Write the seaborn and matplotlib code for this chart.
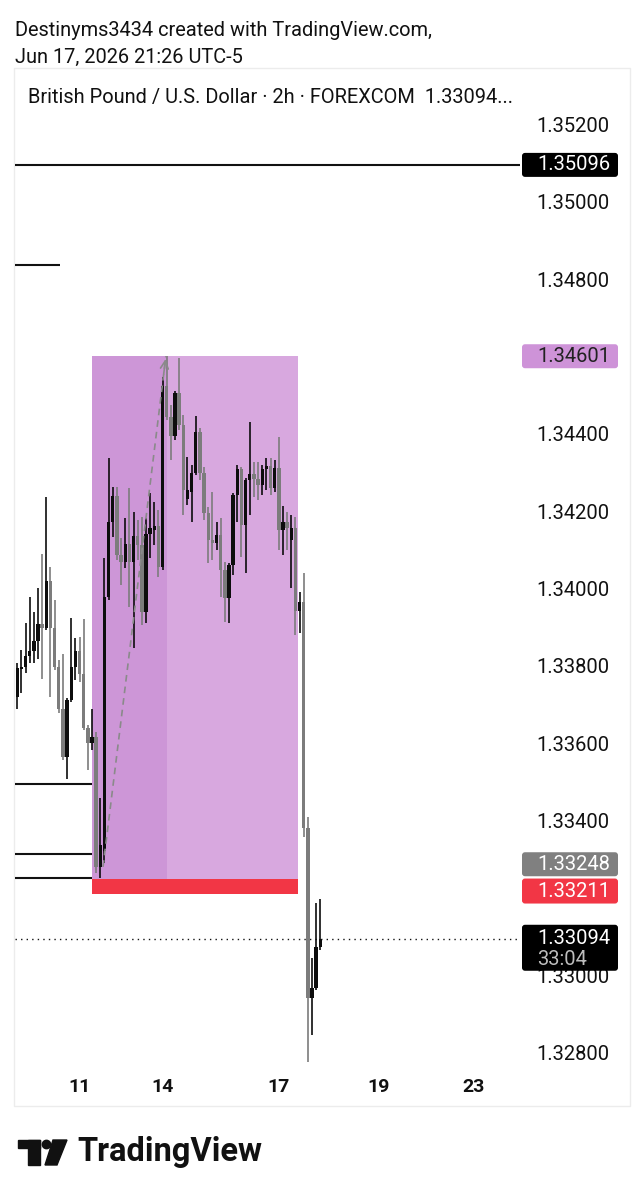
import matplotlib
matplotlib.use("Agg")
import matplotlib.pyplot as plt
import matplotlib.transforms as mtransforms
from matplotlib.patches import Rectangle, Polygon, Circle, FancyBboxPatch
import numpy as np
import seaborn as sns

# GBPUSD 2h candles, oldest -> newest
opens = [1.33719, 1.33792, 1.33797, 1.33826, 1.33838, 1.33864, 1.33908, 1.33898,
         1.34020, 1.33898, 1.33797, 1.33688, 1.33564, 1.33712, 1.33797, 1.33838,
         1.33779, 1.33639, 1.33600, 1.33616, 1.33280, 1.33320, 1.33978, 1.34172,
         1.34239, 1.34087, 1.34069, 1.34115, 1.34069, 1.34136, 1.34113, 1.33939,
         1.34141, 1.34151, 1.34162, 1.34056, 1.34524, 1.34444, 1.34395, 1.34506,
         1.34423, 1.34232, 1.34250, 1.34299, 1.34405, 1.34299, 1.34195, 1.34126,
         1.34118, 1.34139, 1.34048, 1.33976, 1.34061, 1.34242, 1.34309, 1.34164,
         1.34281, 1.34296, 1.34283, 1.34268, 1.34309, 1.34317, 1.34260, 1.34312,
         1.34151, 1.34172, 1.34126, 1.34157, 1.33942, 1.33965, 1.33381, 1.32941,
         1.32967, 1.33073]
highs = [1.33807, 1.33841, 1.33911, 1.33978, 1.33939, 1.34001, 1.34089, 1.34237,
         1.34056, 1.33970, 1.33815, 1.33831, 1.33717, 1.33924, 1.33872, 1.33875,
         1.33921, 1.33647, 1.33688, 1.33629, 1.33458, 1.34079, 1.34338, 1.34263,
         1.34263, 1.34131, 1.34183, 1.34260, 1.34198, 1.34177, 1.34185, 1.34183,
         1.34247, 1.34224, 1.34203, 1.34547, 1.34601, 1.34475, 1.34511, 1.34596,
         1.34449, 1.34340, 1.34320, 1.34446, 1.34415, 1.34314, 1.34211, 1.34250,
         1.34172, 1.34183, 1.34069, 1.34066, 1.34247, 1.34320, 1.34314, 1.34286,
         1.34431, 1.34327, 1.34327, 1.34320, 1.34338, 1.34338, 1.34333, 1.34392,
         1.34214, 1.34198, 1.34190, 1.34185, 1.33991, 1.34040, 1.33409, 1.33044,
         1.33187, 1.33197]
lows = [1.33688, 1.33730, 1.33782, 1.33807, 1.33807, 1.33818, 1.33766, 1.33893,
        1.33719, 1.33789, 1.33678, 1.33556, 1.33507, 1.33707, 1.33763, 1.33758,
        1.33634, 1.33531, 1.33582, 1.33264, 1.33250, 1.33290, 1.33970, 1.34133,
        1.34074, 1.34009, 1.34053, 1.33952, 1.33846, 1.34074, 1.33906, 1.33911,
        1.34079, 1.34113, 1.34030, 1.34048, 1.34436, 1.34333, 1.34384, 1.34410,
        1.34190, 1.34216, 1.34172, 1.34294, 1.34281, 1.34177, 1.34066, 1.34074,
        1.34100, 1.33978, 1.33913, 1.33911, 1.34035, 1.34172, 1.34082, 1.34040,
        1.34190, 1.34237, 1.34229, 1.34242, 1.34255, 1.34242, 1.34250, 1.34100,
        1.34087, 1.34100, 1.34001, 1.33880, 1.33885, 1.33357, 1.32775, 1.32845,
        1.32961, 1.33065]
closes = [1.33794, 1.33797, 1.33826, 1.33838, 1.33864, 1.33908, 1.33898, 1.34020,
          1.33898, 1.33797, 1.33688, 1.33564, 1.33712, 1.33797, 1.33838, 1.33779,
          1.33639, 1.33600, 1.33616, 1.33280, 1.33337, 1.33978, 1.34172, 1.34239,
          1.34087, 1.34069, 1.34115, 1.34069, 1.34136, 1.34113, 1.33939, 1.34141,
          1.34157, 1.34162, 1.34056, 1.34524, 1.34444, 1.34395, 1.34506, 1.34423,
          1.34255, 1.34255, 1.34299, 1.34405, 1.34299, 1.34195, 1.34126, 1.34118,
          1.34139, 1.34048, 1.33976, 1.34061, 1.34242, 1.34309, 1.34164, 1.34281,
          1.34296, 1.34283, 1.34268, 1.34309, 1.34317, 1.34260, 1.34312, 1.34151,
          1.34172, 1.34157, 1.34157, 1.33942, 1.33965, 1.33381, 1.32941, 1.32967,
          1.33073, 1.33094]

# time axis (bar index of each day label)
date_pos = [15, 35, 63, 87, 110]
date_labels = ["11", "14", "17", "19", "23"]
price_ticks = [1.352, 1.350, 1.348, 1.344, 1.342, 1.340, 1.338, 1.336, 1.334, 1.330, 1.328]

# drawings
resistance = 1.35096
short_level = 1.34837
left_levels = [1.33494, 1.33313, 1.33250]
target = 1.34601
entry = 1.33248
stop = 1.33211
last_price = 1.33094
countdown = "33:04"
box_start, box_active_end, box_end = 18.0, 36.1, 67.6
trade_x = [20.65, 35.8]
trade_y = [1.33280, 1.34601]

W, H = 643, 1200
x_lo, x_hi = -0.55, 121.1
y_lo, y_hi = 1.327545, 1.352380

sns.set_theme(style="white")
plt.rcParams["font.family"] = ["Roboto", "DejaVu Sans"]

fig = plt.figure(figsize=(W / 100, H / 100), dpi=100)
fig.patch.set_facecolor("white")

# decoration layer in pixel coords
deco = fig.add_axes([0, 0, 1, 1], zorder=0)
deco.set_xlim(0, W)
deco.set_ylim(H, 0)
deco.axis("off")
deco.add_patch(Rectangle((14, 68), 616, 1038, fill=False, edgecolor="#ececec", lw=1))
deco.text(15, 30, "Destinyms3434 created with TradingView.com,", fontsize=14.4, va="center", color="#111111")
deco.text(15, 57, "Jun 17, 2026 21:26 UTC-5", fontsize=14.4, va="center", color="#111111")
deco.text(28, 98, "British Pound / U.S. Dollar \u00b7 2h \u00b7 FOREXCOM  1.33094...", fontsize=14.4,
          va="center", color="#111111")
# TradingView logo
deco.add_patch(Rectangle((18, 1140), 22, 8, color="#111111"))
deco.add_patch(Rectangle((28, 1140), 12, 25, color="#111111"))
deco.add_patch(Circle((46.5, 1144.5), 4.2, color="#111111"))
deco.add_patch(Polygon([(53, 1140), (67, 1140), (57, 1165), (45, 1165)], color="#111111"))
deco.text(77, 1152, "TradingView", fontsize=23.5, fontweight="bold", va="center", color="#111111")

# chart
ax = fig.add_axes([15 / W, 1 - 1070 / H, 505 / W, 960 / H], zorder=1)
ax.set_facecolor("none")
for s in ax.spines.values():
    s.set_visible(False)

bars = np.arange(len(opens))
o = np.array(opens)
c = np.array(closes)
up = c >= o
colors = np.where(up, "#0d0d0d", "#7c7c7c")
dp = (y_hi - y_lo) / 960.0

# position tool
ax.add_patch(Rectangle((box_start, entry), box_end - box_start, target - entry,
                       facecolor="#D8A8DF", edgecolor="none", zorder=1))
ax.add_patch(Rectangle((box_start, entry), box_active_end - box_start, target - entry,
                       facecolor="#CD96D7", edgecolor="none", zorder=1.1))
ax.add_patch(Rectangle((box_start, stop), box_end - box_start, entry - stop,
                       facecolor="#F23645", edgecolor="none", zorder=1))

# horizontal levels
ax.axhline(resistance, color="#111111", lw=1.5, zorder=2)
ax.hlines(short_level, -0.5, 10.3, color="#111111", lw=1.5, zorder=2)
ax.hlines(left_levels, x_lo, box_start, color="#111111", lw=1.5, zorder=2)
ax.axhline(last_price, color="#111111", lw=1, ls=(0, (1, 3)), zorder=2)

# candles
ax.vlines(bars, lows, highs, colors=colors, lw=1.2, zorder=3)
body_h = np.maximum(np.abs(c - o), 1.5 * dp)
ax.bar(bars, body_h, bottom=np.minimum(o, c), width=0.82, color=colors, lw=0, zorder=4)

# trade path
sns.lineplot(x=trade_x, y=trade_y, ax=ax, color="#8a8a8a", lw=1.2, linestyle=(0, (4, 3)), zorder=5)
t = 0.96
ax.annotate("", xy=(trade_x[1], trade_y[1]),
            xytext=(trade_x[0] + t * (trade_x[1] - trade_x[0]), trade_y[0] + t * (trade_y[1] - trade_y[0])),
            arrowprops=dict(arrowstyle="->", color="#8a8a8a", lw=1.2, mutation_scale=14), zorder=5)

ax.set_xlim(x_lo, x_hi)
ax.set_ylim(y_lo, y_hi)

ax.set_xticks(date_pos)
ax.set_xticklabels(date_labels, fontsize=14, fontweight="bold", color="#111111")
ax.yaxis.tick_right()
ax.set_yticks(price_ticks)
ax.set_yticklabels([f"{p:.5f}" for p in price_ticks], fontsize=14.5, color="#111111")
ax.tick_params(axis="y", length=0, pad=12)
ax.tick_params(axis="x", length=0, pad=6)
ax.grid(False)

# price tags on the scale (rounded boxes; aspect corrects the data/pixel ratio)
lab = mtransforms.blended_transform_factory(fig.transFigure, ax.transData)
aspect = dp / (1.0 / W)


def price_tag(price, text, bg, fg, shift=0, top=12, bottom=12):
    yc = price + shift * dp
    ax.add_patch(FancyBboxPatch((522 / W, yc - bottom * dp), 96 / W, (top + bottom) * dp,
                                boxstyle="round,pad=0,rounding_size=%f" % (3.0 / W),
                                mutation_aspect=aspect, transform=lab,
                                facecolor=bg, edgecolor="none", clip_on=False, zorder=20))
    ax.text(537 / W, yc, text, transform=lab, color=fg, ha="left", va="center",
            fontsize=14.5, clip_on=False, zorder=21)


price_tag(resistance, f"{resistance:.5f}", "#000000", "white")
price_tag(target, f"{target:.5f}", "#CE93D8", "#222222")
price_tag(entry, f"{entry:.5f}", "#808080", "white", shift=15)
price_tag(stop, f"{stop:.5f}", "#F23645", "white", shift=2, top=13)
price_tag(last_price, f"{last_price:.5f}", "#000000", "white", top=14, bottom=32)
ax.text(537 / W, last_price - 21 * dp, countdown, transform=lab, color="#bdbdbd", ha="left",
        va="center", fontsize=14.5, clip_on=False, zorder=21)

ax.set_xlim(x_lo, x_hi)
ax.set_ylim(y_lo, y_hi)

fig.savefig("out.png", dpi=100, facecolor="white")
